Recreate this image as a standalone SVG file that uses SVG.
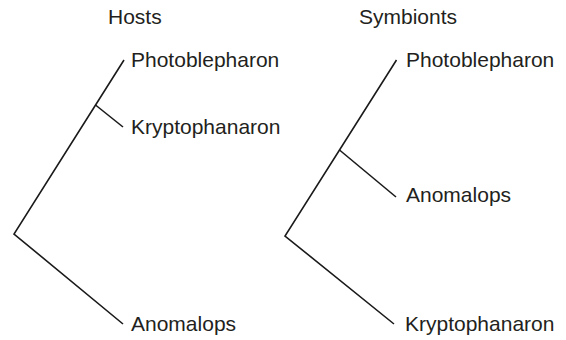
<svg xmlns="http://www.w3.org/2000/svg" width="566" height="340" viewBox="0 0 566 340">
<style>
  .t { font-family: "Liberation Sans", Arial, sans-serif; font-size: 21px; fill: #231f20; }
  .e { stroke: #1a1a1a; stroke-width: 1.6; fill: none; stroke-linecap: butt; stroke-linejoin: miter; }
</style>
<rect width="566" height="340" fill="#ffffff"/>
<g id="title-hosts"><text class="t" x="108" y="24">Hosts</text></g>
<g id="title-symbionts"><text class="t" x="359" y="24">Symbionts</text></g>
<g id="connectors">
  <polyline class="e" points="124,60 14,234 123,324"/>
  <line class="e" x1="95.5" y1="105" x2="123" y2="127"/>
  <polyline class="e" points="396.5,60 285,236 394,324"/>
  <line class="e" x1="339.5" y1="150" x2="396" y2="197"/>
</g>
<g id="host-photoblepharon"><text class="t" x="131" y="67">Photoblepharon</text></g>
<g id="host-kryptophanaron"><text class="t" x="131" y="134">Kryptophanaron</text></g>
<g id="host-anomalops"><text class="t" x="131" y="331">Anomalops</text></g>
<g id="sym-photoblepharon"><text class="t" x="406" y="67">Photoblepharon</text></g>
<g id="sym-anomalops"><text class="t" x="406" y="202">Anomalops</text></g>
<g id="sym-kryptophanaron"><text class="t" x="405" y="331">Kryptophanaron</text></g>
</svg>
